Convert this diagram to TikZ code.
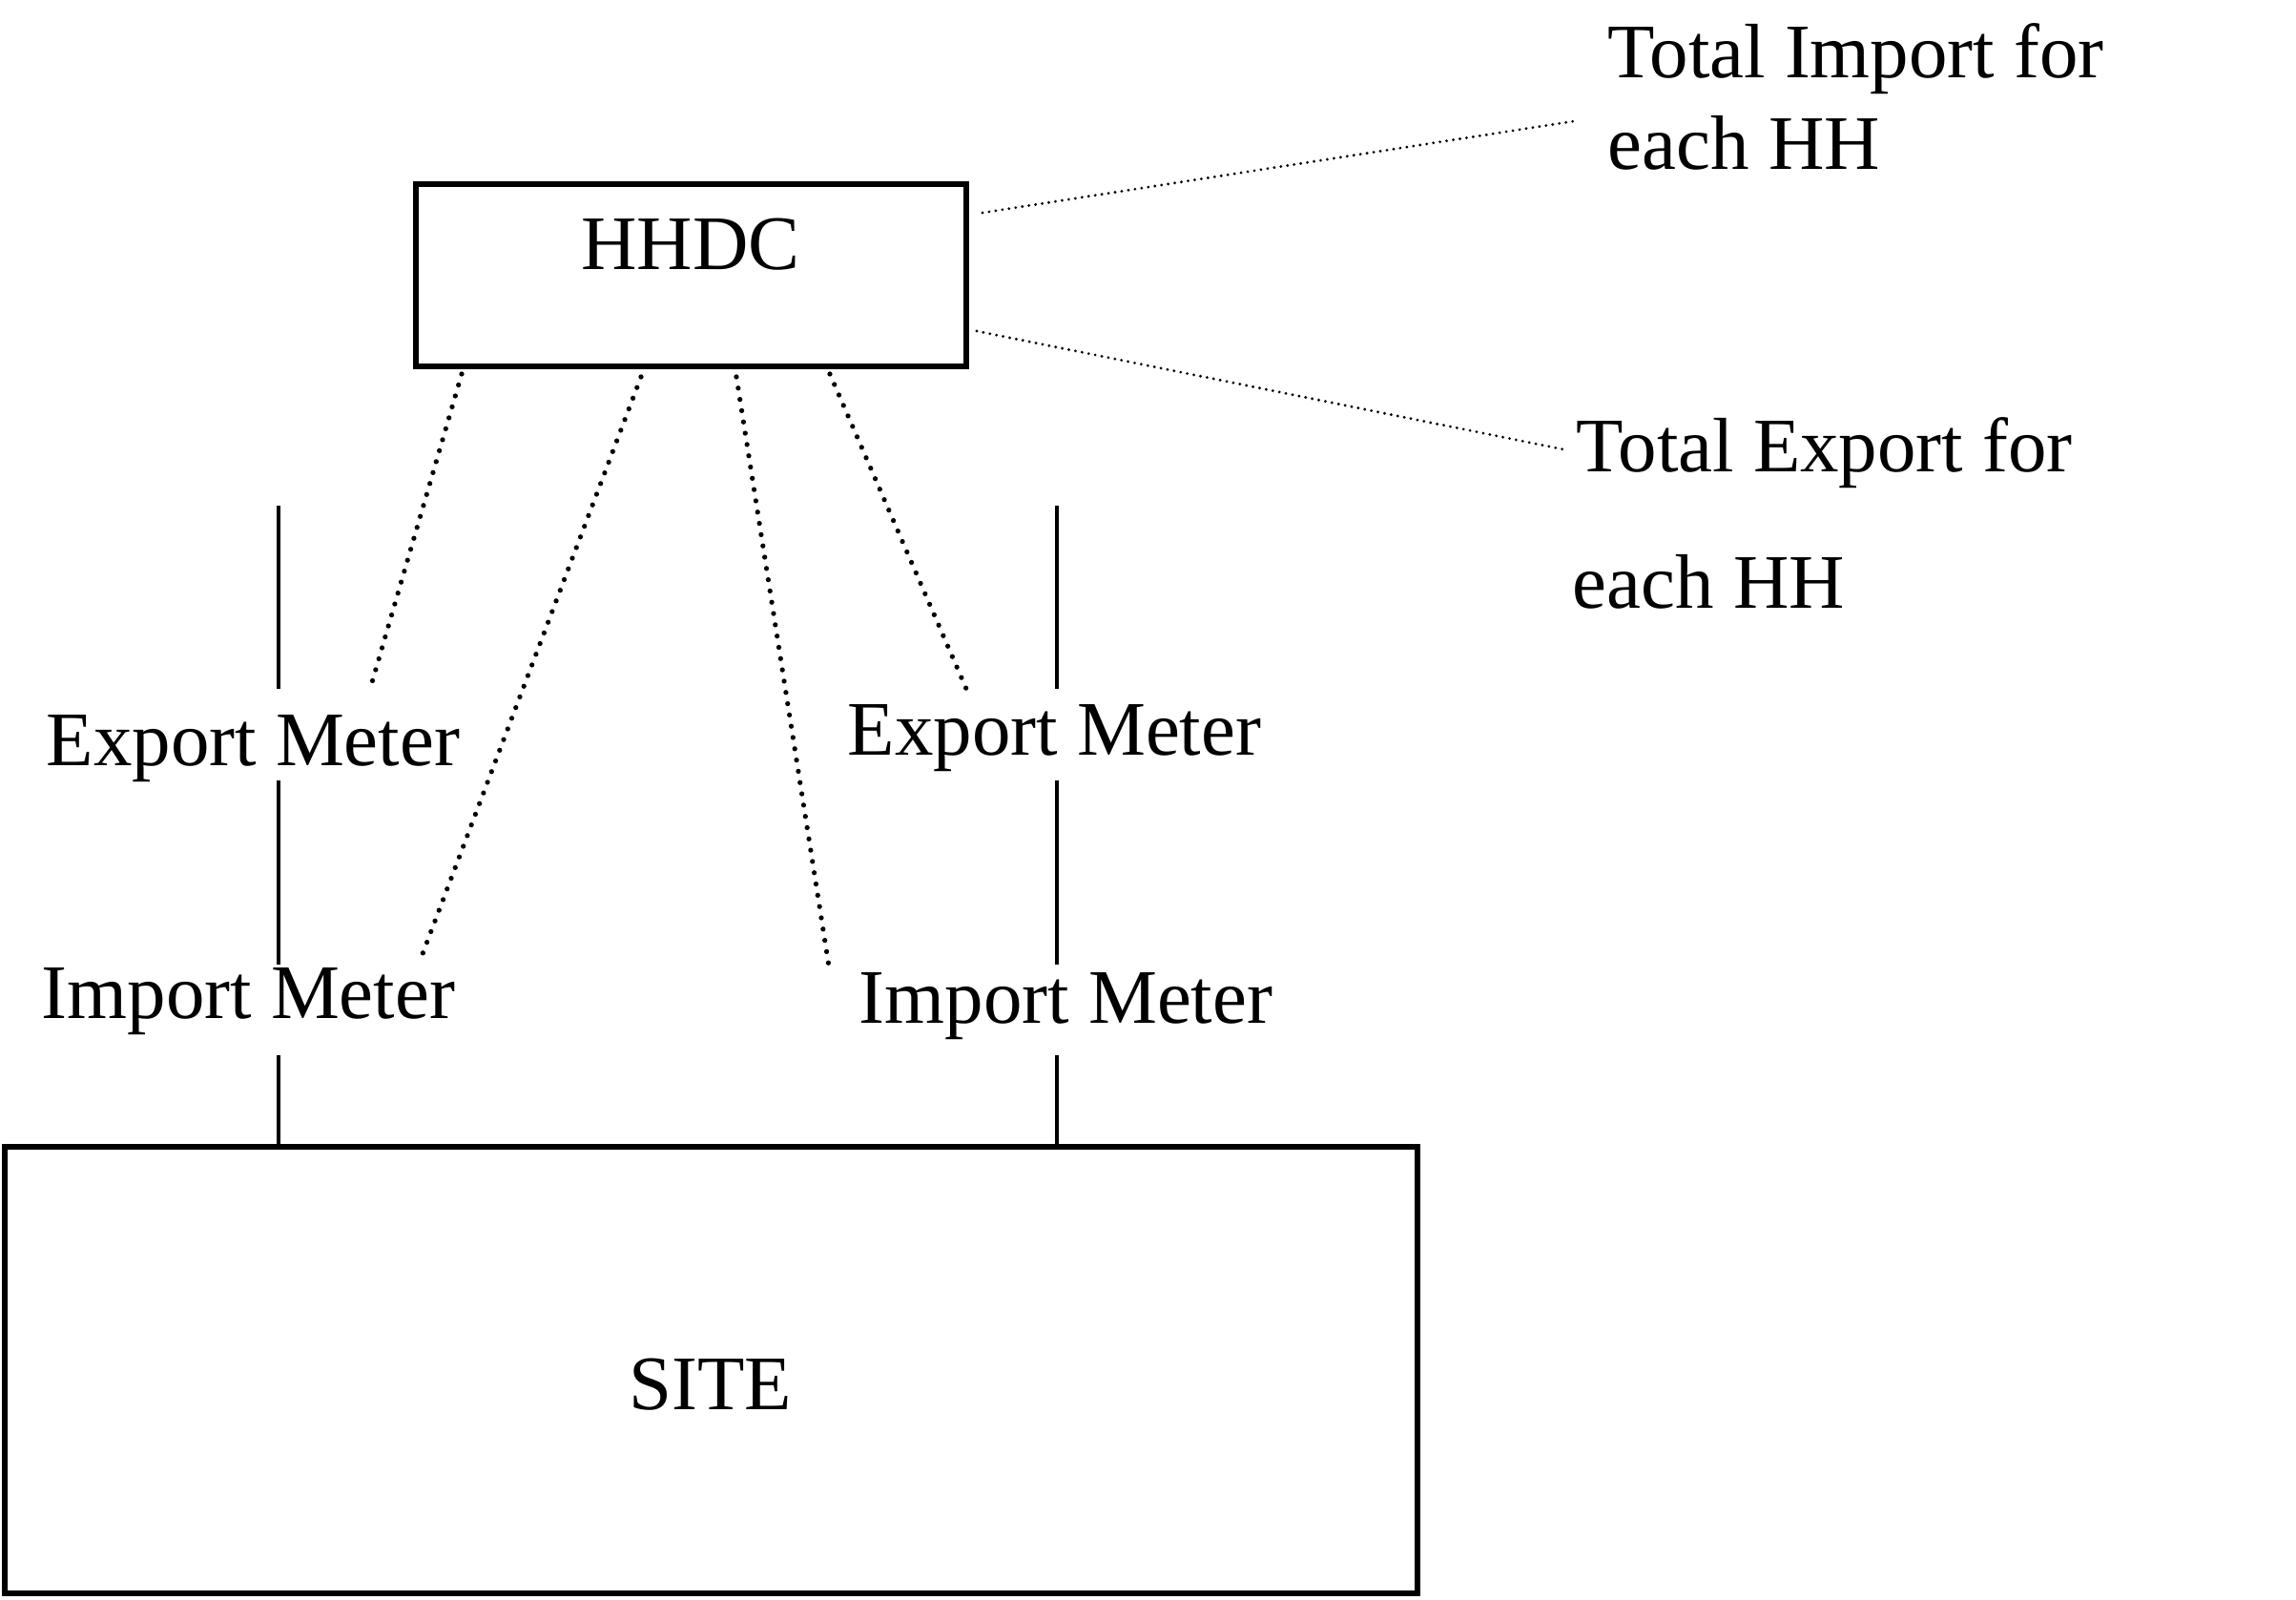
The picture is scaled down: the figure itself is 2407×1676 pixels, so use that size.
\documentclass[tikz,border=0pt]{standalone}
\usepackage{fontspec}
\setmainfont{Liberation Serif}
\begin{document}
\begin{tikzpicture}[x=0.01cm,y=-0.01cm,
  boxnode/.style={draw,line width=1.6pt,inner sep=0pt},
  lbl/.style={inner sep=0pt,font=\fontsize{23}{28}\selectfont},
  gapnode/.style={inner sep=0pt,minimum width=1pt},
  solidline/.style={line width=1.2pt},
  dotbig/.style={line width=1.5pt,line cap=round,dash pattern=on 0pt off 3.4pt},
  dotsmall/.style={line width=0.9pt,line cap=round,dash pattern=on 0pt off 2pt}]
\useasboundingbox (0,0) rectangle (2407,1676);
% boxes
\node[boxnode,minimum width=577*0.01cm,minimum height=191*0.01cm] (hhdc) at (724.5,288.5) {};
\node[lbl,anchor=base] (hhdct) at (724,282) {HHDC};
\node[boxnode,minimum width=1481*0.01cm,minimum height=468*0.01cm] (site) at (745.5,1436) {};
\node[lbl,anchor=base] (sitet) at (745,1477) {SITE};
% meter labels
\node[lbl,anchor=base west] (em1) at (48,802) {Export Meter};
\node[lbl,anchor=base west] (im1) at (43,1067) {Import Meter};
\node[lbl,anchor=base west] (em2) at (888,791) {Export Meter};
\node[lbl,anchor=base west] (im2) at (900,1072) {Import Meter};
% gaps in the meter lines
\node[gapnode,minimum height=94*0.01cm] (g1) at (292,770) {};
\node[gapnode,minimum height=93*0.01cm] (g2) at (292,1058.5) {};
\node[gapnode,minimum height=94*0.01cm] (g3) at (1108,770) {};
\node[gapnode,minimum height=93*0.01cm] (g4) at (1108,1058.5) {};
% right texts
\node[lbl,anchor=base west] (ti1) at (1685,82) {Total Import for};
\node[lbl,anchor=base west] (ti2) at (1685,178) {each HH};
\node[lbl,anchor=base west] (te1) at (1652,494) {Total Export for};
\node[lbl,anchor=base west] (te2) at (1648,637) {each HH};
% vertical meter lines
\coordinate (top1) at (292,530);
\coordinate (top2) at (1108,530);
\draw[solidline] (top1) -- (g1.north);
\draw[solidline] (g1.south) -- (g2.north);
\draw[solidline] (g2.south) -- (g2.south |- site.north);
\draw[solidline] (top2) -- (g3.north);
\draw[solidline] (g3.south) -- (g4.north);
\draw[solidline] (g4.south) -- (g4.south |- site.north);
% dotted links
\coordinate (d1a) at (484,392); \coordinate (d1b) at (388,722);
\coordinate (d2a) at (672,395); \coordinate (d2b) at (441,1005);
\coordinate (d3a) at (772,395); \coordinate (d3b) at (869,1013);
\coordinate (d4a) at (870,392); \coordinate (d4b) at (1013,722);
\draw[dotbig] (d1a) -- (d1b);
\draw[dotbig] (d2a) -- (d2b);
\draw[dotbig] (d3a) -- (d3b);
\draw[dotbig] (d4a) -- (d4b);
\coordinate (r1a) at (1030,223); \coordinate (r1b) at (1650,127);
\coordinate (r2a) at (1024,347); \coordinate (r2b) at (1639,471);
\draw[dotsmall] (r1a) -- (r1b);
\draw[dotsmall] (r2a) -- (r2b);
\end{tikzpicture}
\end{document}
